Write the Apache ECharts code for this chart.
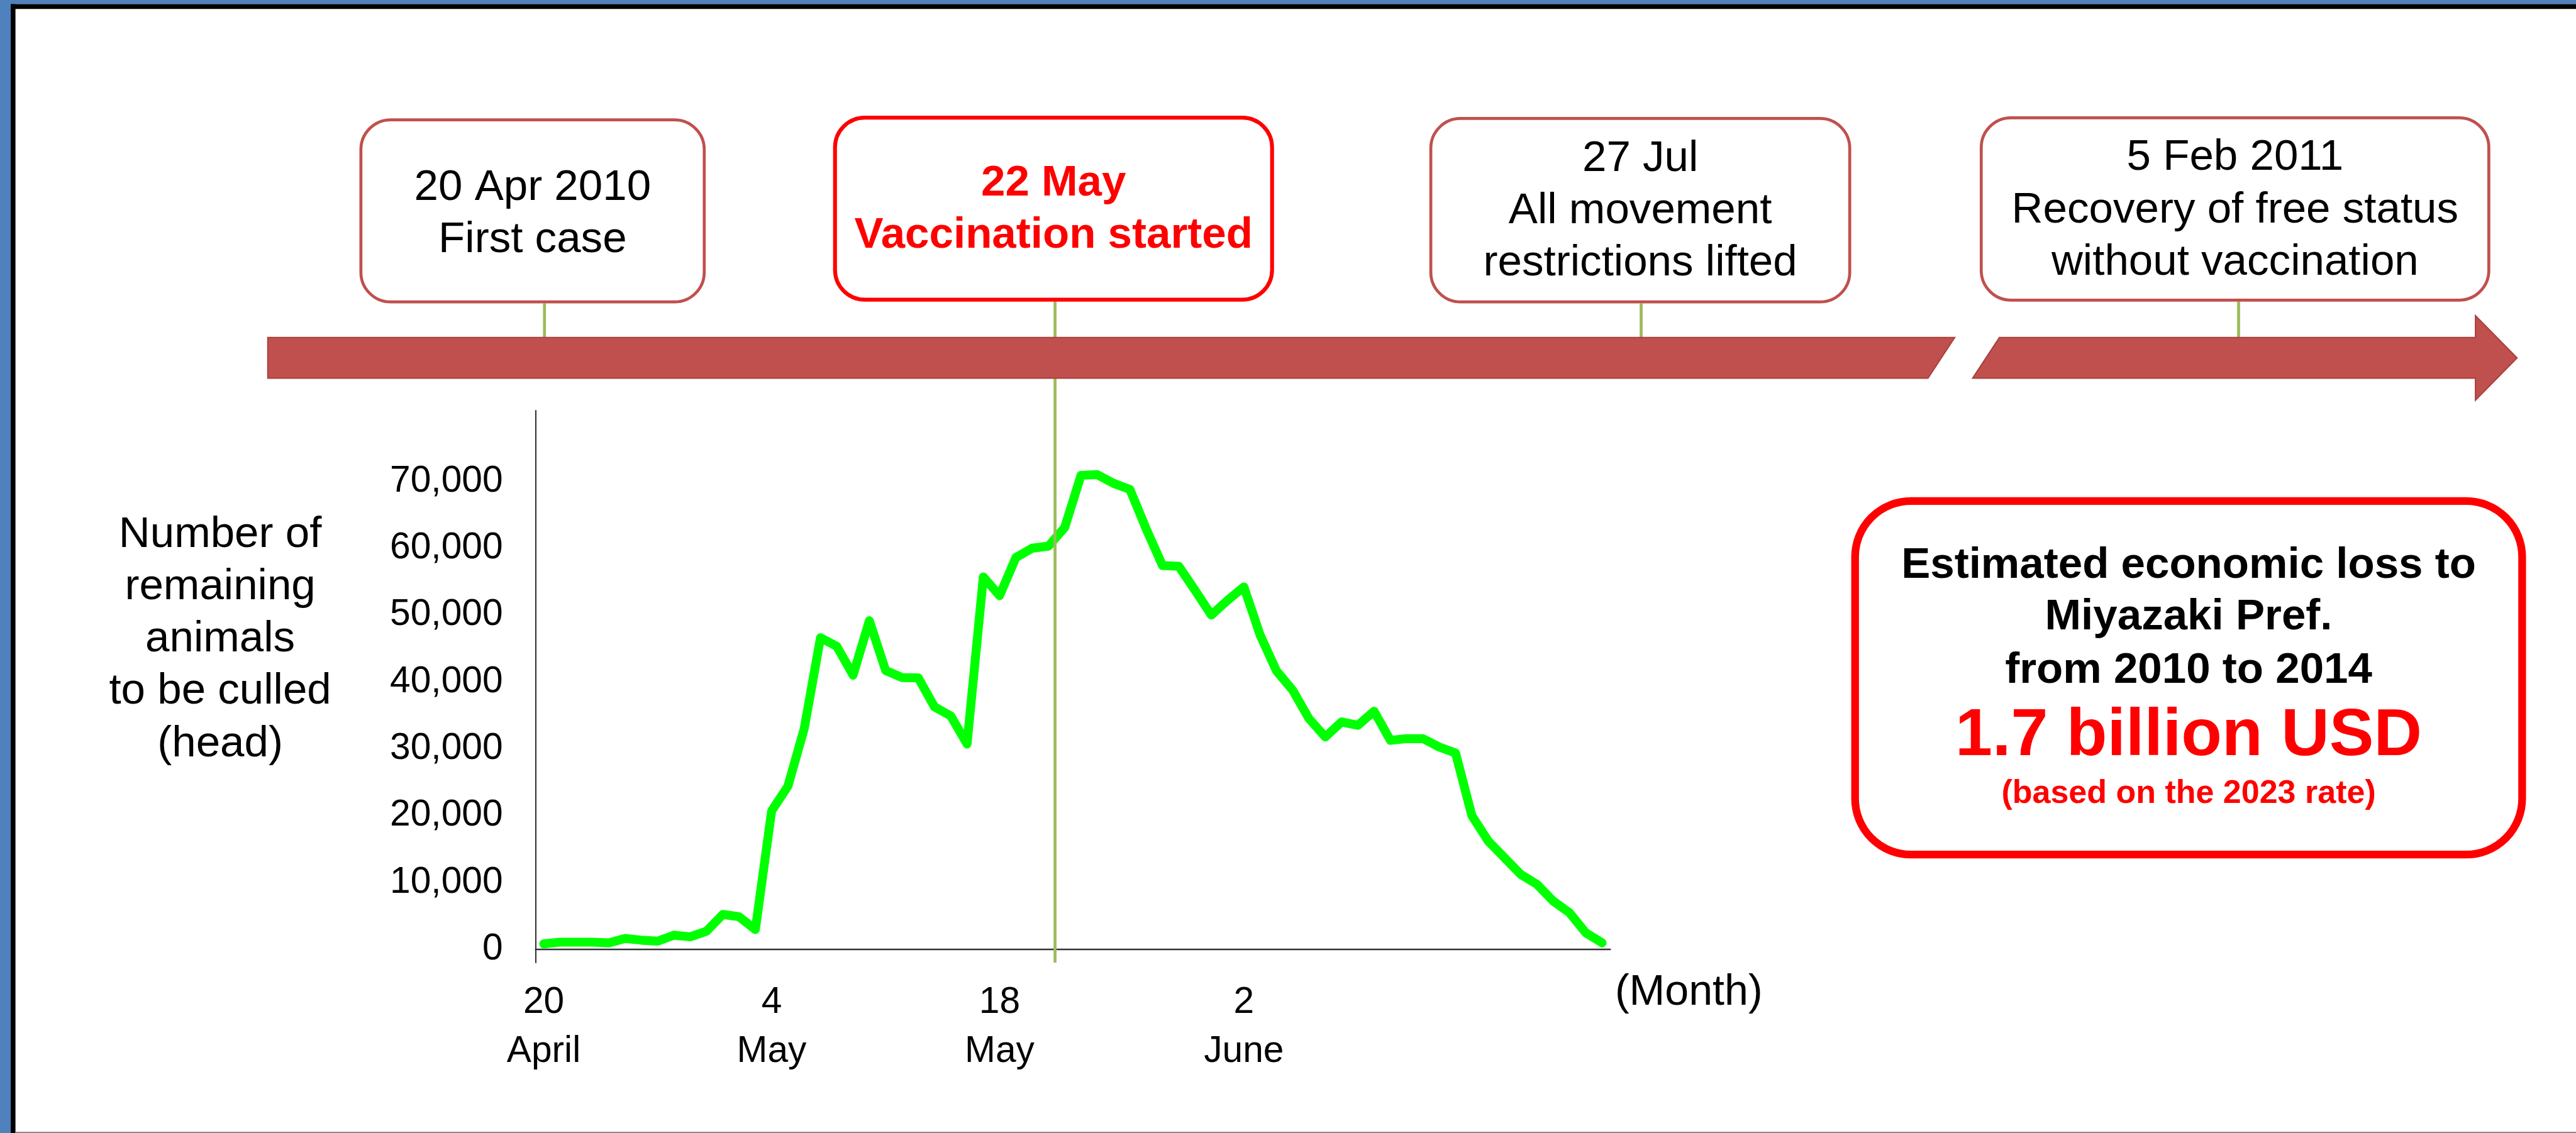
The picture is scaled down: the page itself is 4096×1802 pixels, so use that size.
<!DOCTYPE html>
<html><head><meta charset="utf-8">
<script src="https://cdn.jsdelivr.net/npm/echarts@6/dist/echarts.min.js"></script>
<style>html,body{margin:0;padding:0;background:#fff;overflow:hidden}#c{width:4096px;height:1802px}</style>
</head><body><div id="c"></div>
<script>
// ---------- data ----------
const categories = [
  '4/20','4/21','4/22','4/23','4/24','4/25','4/26','4/27','4/28','4/29','4/30',
  '5/1','5/2','5/3','5/4','5/5','5/6','5/7','5/8','5/9','5/10','5/11','5/12','5/13','5/14','5/15',
  '5/16','5/17','5/18','5/19','5/20','5/21','5/22','5/23','5/24','5/25','5/26','5/27','5/28','5/29','5/30','5/31',
  '6/1','6/2','6/3','6/4','6/5','6/6','6/7','6/8','6/9','6/10','6/11','6/12','6/13','6/14','6/15',
  '6/16','6/17','6/18','6/19','6/20','6/21','6/22','6/23','6/24'
];
const remaining = [
  800, 1050, 1050, 1050, 950, 1600, 1350, 1200, 2100, 1850, 2700,
  5200, 4850, 2950, 20700, 24400, 33000, 46600, 45300, 41000, 49150, 41700, 40650, 40600, 36250, 34900,
  30700, 55700, 52900, 58600, 60000, 60300, 63100, 70900, 71000, 69700, 68800, 62900, 57400, 57300, 53700, 50000,
  52200, 54200, 47000, 41650, 38750, 34500, 31750, 34000, 33500, 35600, 31250, 31500, 31500, 30250, 29350,
  20000, 16200, 13700, 11200, 9700, 7200, 5450, 2450, 950
];
const yTickValues = [0, 10000, 20000, 30000, 40000, 50000, 60000, 70000];
const xTickCats = ['4/20', '5/4', '5/18', '6/2'];
const xTickText = ['20\nApril', '4\nMay', '18\nMay', '2\nJune'];
const yAxisTitle = 'Number of\nremaining\nanimals\nto be culled\n(head)';
const xAxisTitle = '(Month)';
const eventTexts = [
  '20 Apr 2010\nFirst case',
  '22 May\nVaccination started',
  '27 Jul\nAll movement\nrestrictions lifted',
  '5 Feb 2011\nRecovery of free status\nwithout vaccination'
];
const lossLines = ['Estimated economic loss to', 'Miyazaki Pref.', 'from 2010 to 2014', '1.7 billion USD', '(based on the 2023 rate)'];

// ---------- layout (reference px -> window px) ----------
const S = 4096 / 4329;
const s = v => v * S;
const FF = '"Liberation Sans", Arial, Helvetica, sans-serif';
const font = (size, bold) => (bold ? 'bold ' : '') + s(size).toFixed(1) + 'px ' + FF;

const chart = echarts.init(document.getElementById('c'), null, {renderer: 'canvas'});

const boxes = [
  {x: 604, y: 199, x2: 1186, y2: 510, cx: 895, cy: 359.7, conn: 915, color: '#C0504D', lw: 5, txt: '#000', bold: false},
  {x: 1400, y: 194.5, x2: 2141, y2: 507, cx: 1770.5, cy: 352.7, conn: 1773, color: '#FF0000', lw: 6.5, txt: '#FF0000', bold: true},
  {x: 2402, y: 196.7, x2: 3111, y2: 510, cx: 2756.5, cy: 355.2, conn: 2758, color: '#C0504D', lw: 5, txt: '#000', bold: false},
  {x: 3327, y: 195.6, x2: 4185, y2: 507, cx: 3756, cy: 353.5, conn: 3762, color: '#C0504D', lw: 5, txt: '#000', bold: false}
];

const g = [];
// frame
g.push({type: 'rect', z: 1, shape: {x: 0, y: 0, width: 4096, height: s(7)}, style: {fill: '#4F81BD'}});
g.push({type: 'rect', z: 1, shape: {x: 0, y: 0, width: s(18), height: 1802}, style: {fill: '#4F81BD'}});
g.push({type: 'rect', z: 1, shape: {x: s(18), y: s(7), width: 4096, height: s(8)}, style: {fill: '#000'}});
g.push({type: 'rect', z: 1, shape: {x: s(18), y: s(7), width: s(8), height: 1802}, style: {fill: '#000'}});
g.push({type: 'rect', z: 1, shape: {x: s(26), y: 1800, width: 4096, height: 2}, style: {fill: '#8c8c8c'}});

// connectors and vaccination line (under the arrow)
boxes.forEach((b, i) => {
  const yEnd = i === 1 ? 1618 : 580;
  g.push({type: 'line', z: 50, shape: {x1: s(b.conn), y1: s(b.y2), x2: s(b.conn), y2: s(yEnd)},
    style: {stroke: '#9BBB59', lineWidth: s(5)}});
});

// arrow
g.push({type: 'polygon', z: 60, shape: {points: [[s(450), s(567.4)], [s(3285), s(567.4)], [s(3240), s(635.8)], [s(450), s(635.8)]]},
  style: {fill: '#C0504D', stroke: '#A8403D', lineWidth: 2}});
g.push({type: 'polygon', z: 60, shape: {points: [[s(3360), s(567.4)], [s(4160), s(567.4)], [s(4160), s(530.6)], [s(4230), s(601.6)],
  [s(4160), s(672.7)], [s(4160), s(635.8)], [s(3315), s(635.8)]]},
  style: {fill: '#C0504D', stroke: '#A8403D', lineWidth: 2}});

// event boxes
boxes.forEach((b, i) => {
  g.push({type: 'rect', z: 60, shape: {x: s(b.x + b.lw / 2), y: s(b.y + b.lw / 2), width: s(b.x2 - b.x - b.lw), height: s(b.y2 - b.y - b.lw), r: s(50)},
    style: {fill: '#fff', stroke: b.color, lineWidth: s(b.lw)}});
  g.push({type: 'text', z: 61, x: s(b.cx), y: s(b.cy),
    style: {text: eventTexts[i], font: font(73, b.bold), fill: b.txt, align: 'center', verticalAlign: 'middle',
      textAlign: 'center', textVerticalAlign: 'middle', lineHeight: s(88)}});
});

// y axis title
g.push({type: 'text', z: 61, x: s(370), y: s(1075),
  style: {text: yAxisTitle, font: font(73, false), fill: '#000', align: 'center', verticalAlign: 'middle',
    textAlign: 'center', textVerticalAlign: 'middle', lineHeight: s(88)}});

// economic loss box
g.push({type: 'rect', z: 60, shape: {x: s(3117.5), y: s(842.2), width: s(1121), height: s(594.3), r: s(94)},
  style: {fill: '#fff', stroke: '#FF0000', lineWidth: s(13)}});
const lossY = [950.7, 1037.7, 1127.4, 1238, 1334.4];
const lossSize = [73, 73, 73, 112, 55];
const lossColor = ['#000', '#000', '#000', '#FF0000', '#FF0000'];
lossLines.forEach((t, i) => {
  g.push({type: 'text', z: 61, x: s(3678), y: s(lossY[i]),
    style: {text: t, font: font(lossSize[i], true), fill: lossColor[i], align: 'center', verticalAlign: 'middle',
      textAlign: 'center', textVerticalAlign: 'middle'}});
});

const option = {
  animation: false,
  backgroundColor: '#fff',
  grid: {left: s(900), top: s(690), width: s(1806), height: s(928), containLabel: false, outerBoundsMode: 'none'},
  xAxis: {
    type: 'category',
    data: categories,
    boundaryGap: true,
    axisLine: {show: true, lineStyle: {color: '#333', width: s(2.5)}},
    axisTick: {show: false},
    splitLine: {show: false},
    axisLabel: {
      interval: (idx, val) => xTickCats.indexOf(val) >= 0,
      formatter: val => { const k = xTickCats.indexOf(val); return k >= 0 ? xTickText[k] : ''; },
      color: '#000', fontFamily: FF, fontSize: s(62), lineHeight: s(82), margin: s(27)
    },
    name: xAxisTitle,
    nameLocation: 'end',
    nameGap: s(8),
    nameTextStyle: {color: '#000', fontFamily: FF, fontSize: s(72), align: 'left', verticalAlign: 'top',
      lineHeight: s(82), padding: [s(33), 0, 0, 0]}
  },
  yAxis: {
    type: 'value',
    min: -2000,
    max: 80600,
    interval: 2000,
    axisLine: {show: true, lineStyle: {color: '#222', width: s(2)}},
    axisTick: {show: false},
    splitLine: {show: false},
    axisLabel: {
      formatter: v => (yTickValues.indexOf(v) >= 0 ? v.toLocaleString('en-US') : ''),
      color: '#000', fontFamily: FF, fontSize: s(62), margin: s(55)
    }
  },
  series: [{
    type: 'line',
    data: remaining,
    showSymbol: false,
    symbol: 'none',
    z: 5,
    lineStyle: {color: '#00FF00', width: s(15), join: 'round', cap: 'round'}
  }],
  graphic: {elements: g}
};
chart.setOption(option);
</script>
</body></html>
